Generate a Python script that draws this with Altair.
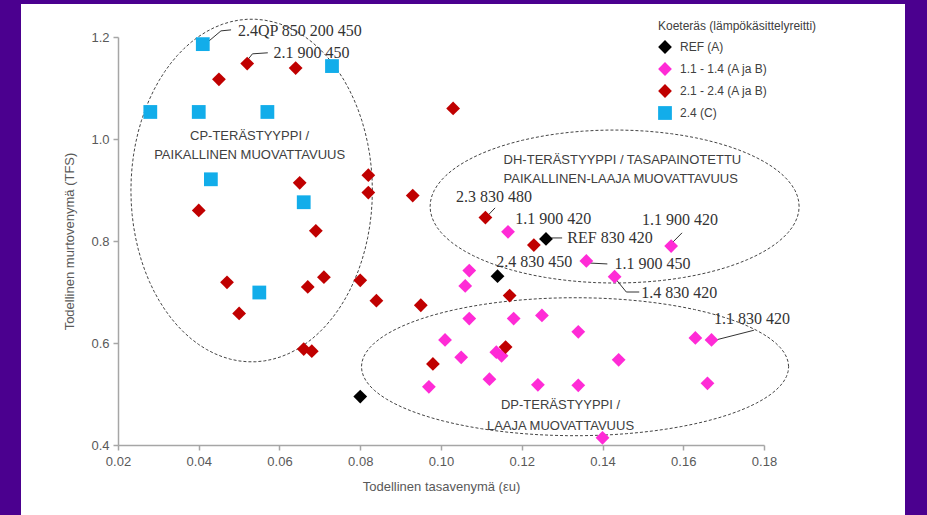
import altair as alt
import pandas as pd

# ---------------- data ----------------
groups = ["REF (A)", "1.1 - 1.4 (A ja B)", "2.1 - 2.4 (A ja B)", "2.4 (C)"]
colors = ["#000000", "#FF2BD6", "#C00000", "#12ADEA"]
shapes = ["diamond", "diamond", "diamond", "square"]
sizes = [190, 190, 190, 85]

ref_x = [0.126, 0.114, 0.080]
ref_y = [0.804, 0.731, 0.495]

mag_x = [0.1166, 0.157, 0.136, 0.107, 0.143, 0.106, 0.107, 0.118, 0.125, 0.134, 0.101,
         0.163, 0.167, 0.1137, 0.115, 0.105, 0.144, 0.112, 0.097, 0.124, 0.134, 0.166, 0.140]
mag_y = [0.818, 0.790, 0.761, 0.742, 0.730, 0.712, 0.648, 0.648, 0.654, 0.622, 0.606,
         0.610, 0.606, 0.582, 0.575, 0.572, 0.567, 0.529, 0.514, 0.518, 0.517, 0.521, 0.414]

red_x = [0.052, 0.064, 0.045, 0.103, 0.082, 0.065, 0.082, 0.093, 0.040, 0.111, 0.069, 0.123,
         0.071, 0.080, 0.047, 0.067, 0.117, 0.084, 0.095, 0.050, 0.066, 0.068, 0.116, 0.098]
red_y = [1.148, 1.139, 1.117, 1.060, 0.929, 0.914, 0.895, 0.889, 0.860, 0.846, 0.820, 0.792,
         0.729, 0.723, 0.719, 0.710, 0.693, 0.683, 0.674, 0.658, 0.588, 0.584, 0.592, 0.559]

blue_x = [0.041, 0.073, 0.028, 0.040, 0.057, 0.043, 0.066, 0.055]
blue_y = [1.186, 1.143, 1.053, 1.053, 1.053, 0.921, 0.876, 0.699]

x_ticks = [0.02, 0.04, 0.06, 0.08, 0.10, 0.12, 0.14, 0.16, 0.18]
y_ticks = [0.4, 0.6, 0.8, 1.0, 1.2]

# point annotations (left edge, vertical middle)
ann_text = ["2.4QP 850 200 450", "2.1 900 450", "2.3 830 480", "1.1 900 420", "REF 830 420",
            "1.1 900 420", "2.4 830 450", "1.1 900 450", "1.4 830 420", "1.1 830 420"]
ann_x = [0.0497, 0.0585, 0.1037, 0.1184, 0.1313, 0.1498, 0.1137, 0.1430, 0.1496, 0.1676]
ann_y = [1.212, 1.168, 0.887, 0.844, 0.805, 0.841, 0.759, 0.755, 0.699, 0.647]

# leader lines (polylines)
leaders = [
    [(0.0480, 1.214), (0.0455, 1.212), (0.0425, 1.192)],
    [(0.0571, 1.169), (0.0533, 1.167), (0.0519, 1.153)],
    [(0.1134, 0.865), (0.1110, 0.845)],
    [(0.1273, 0.806), (0.1300, 0.806)],
    [(0.1597, 0.816), (0.1572, 0.796)],
    [(0.1362, 0.757), (0.1412, 0.755)],
    [(0.1429, 0.729), (0.1459, 0.700), (0.1491, 0.700)],
    [(0.1775, 0.625), (0.1676, 0.605)],
]

# region labels
reg_text = ["CP-TERÄSTYYPPI /", "PAIKALLINEN MUOVATTAVUUS",
            "DH-TERÄSTYYPPI / TASAPAINOTETTU", "PAIKALLINEN-LAAJA MUOVATTAVUUS",
            "DP-TERÄSTYYPPI /", "LAAJA MUOVATTAVUUS"]
reg_x = [0.0526, 0.0526, 0.1155, 0.1155, 0.1296, 0.1296]
reg_y = [1.005, 0.969, 0.959, 0.922, 0.478, 0.437]
reg_align = ["center", "center", "left", "left", "center", "center"]

# ellipses: centre and radii in data units
ell_name = ["CP", "DH", "DP"]
ell_cx = [0.0531, 0.1430, 0.1332]
ell_cy = [0.899, 0.8676, 0.5535]
ell_rx = [0.0299, 0.0457, 0.0529]
ell_ry = [0.336, 0.150, 0.1353]

# ---------------- tables ----------------
rows = []
for g, xs, ys in [(groups[0], ref_x, ref_y), (groups[1], mag_x, mag_y),
                  (groups[2], red_x, red_y), (groups[3], blue_x, blue_y)]:
    for a, b in zip(xs, ys):
        rows.append({"x": a, "y": b, "group": g})
pts = pd.DataFrame(rows)

ann = pd.DataFrame({"x": ann_x, "y": ann_y, "t": ann_text})
lead = pd.DataFrame([{"id": i, "o": j, "x": p[0], "y": p[1]}
                     for i, seg in enumerate(leaders) for j, p in enumerate(seg)])
reg = pd.DataFrame({"x": reg_x, "y": reg_y, "t": reg_text, "a": reg_align})
ell = pd.DataFrame({"name": ell_name, "cx": ell_cx, "cy": ell_cy, "rx": ell_rx, "ry": ell_ry})

xscale = alt.Scale(domain=[0.02, 0.18], nice=False, zero=False)
yscale = alt.Scale(domain=[0.4, 1.2], nice=False, zero=False)

axis_common = dict(
    grid=False, zindex=2, domainColor="#A6A6A6", domainWidth=1.5, tickColor="#A6A6A6",
    tickWidth=1.5, tickSize=5, labelFont="Liberation Sans", labelFontSize=13,
    labelColor="#595959", titleFont="Liberation Sans", titleFontSize=13,
    titleFontWeight="normal", titleColor="#595959", labelFlush=False,
)

legend = alt.Legend(
    orient="none", legendX=540, legendY=-16, padding=0,
    title="Koeteräs (lämpökäsittelyreitti)", titleFont="Liberation Sans", titleFontSize=12,
    titleFontWeight="normal", titleColor="#404040", titlePadding=7,
    labelFont="Liberation Sans", labelFontSize=12, labelColor="#404040",
    labelOffset=8, rowPadding=8, symbolOpacity=1, symbolStrokeWidth=0,
)

bg = alt.Chart(alt.Data(values=[{"a": 1}])).mark_rect(color="white").encode(
    x=alt.value(-97), x2=alt.value(787), y=alt.value(-33), y2=alt.value(478)
)

points = alt.Chart(pts).mark_point(filled=True, opacity=1).encode(
    x=alt.X("x:Q", scale=xscale,
            axis=alt.Axis(values=x_ticks, format=".2f", title="Todellinen tasavenymä (εu)",
                          labelPadding=5, titlePadding=12, **axis_common)),
    y=alt.Y("y:Q", scale=yscale,
            axis=alt.Axis(values=y_ticks, format=".1f", title="Todellinen murtovenymä (TFS)",
                          labelPadding=4, titlePadding=14, **axis_common)),
    color=alt.Color("group:N", scale=alt.Scale(domain=groups, range=colors), legend=legend),
    shape=alt.Shape("group:N", scale=alt.Scale(domain=groups, range=shapes), legend=legend),
    size=alt.Size("group:N", scale=alt.Scale(domain=groups, range=sizes), legend=legend),
)

ellipses = alt.Chart(ell).transform_calculate(
    ang="sequence(0, 364, 4)"
).transform_flatten(["ang"]).transform_calculate(
    ex="datum.cx + datum.rx * cos(datum.ang * PI / 180)",
    ey="datum.cy + datum.ry * sin(datum.ang * PI / 180)",
).mark_line(color="#444444", strokeWidth=1, strokeDash=[3, 2]).encode(
    x=alt.X("ex:Q", scale=xscale),
    y=alt.Y("ey:Q", scale=yscale),
    detail="name:N",
    order=alt.Order("ang:Q"),
)

leader_lines = alt.Chart(lead).mark_line(color="#333333", strokeWidth=1).encode(
    x=alt.X("x:Q", scale=xscale), y=alt.Y("y:Q", scale=yscale),
    detail="id:N", order=alt.Order("o:Q"),
)

ann_labels = alt.Chart(ann).mark_text(
    align="left", baseline="middle", font="Liberation Serif", fontSize=16, color="#333333"
).encode(x=alt.X("x:Q", scale=xscale), y=alt.Y("y:Q", scale=yscale), text="t:N")

reg_c = alt.Chart(reg).transform_filter("datum.a == 'center'").mark_text(
    align="center", baseline="middle", font="Liberation Sans", fontSize=13, color="#404040"
).encode(x=alt.X("x:Q", scale=xscale), y=alt.Y("y:Q", scale=yscale), text="t:N")
reg_l = alt.Chart(reg).transform_filter("datum.a == 'left'").mark_text(
    align="left", baseline="middle", font="Liberation Sans", fontSize=13, color="#404040"
).encode(x=alt.X("x:Q", scale=xscale), y=alt.Y("y:Q", scale=yscale), text="t:N")

chart = alt.layer(bg, ellipses, leader_lines, points, ann_labels, reg_c, reg_l).properties(
    width=646, height=408,
    autosize=alt.AutoSizeParams(type="none"),
    padding={"left": 118, "top": 37, "right": 163, "bottom": 70},
    background="#4B008F",
).configure_view(stroke=None)

chart.save("out.html", embed_options={"renderer": "svg", "actions": False})
